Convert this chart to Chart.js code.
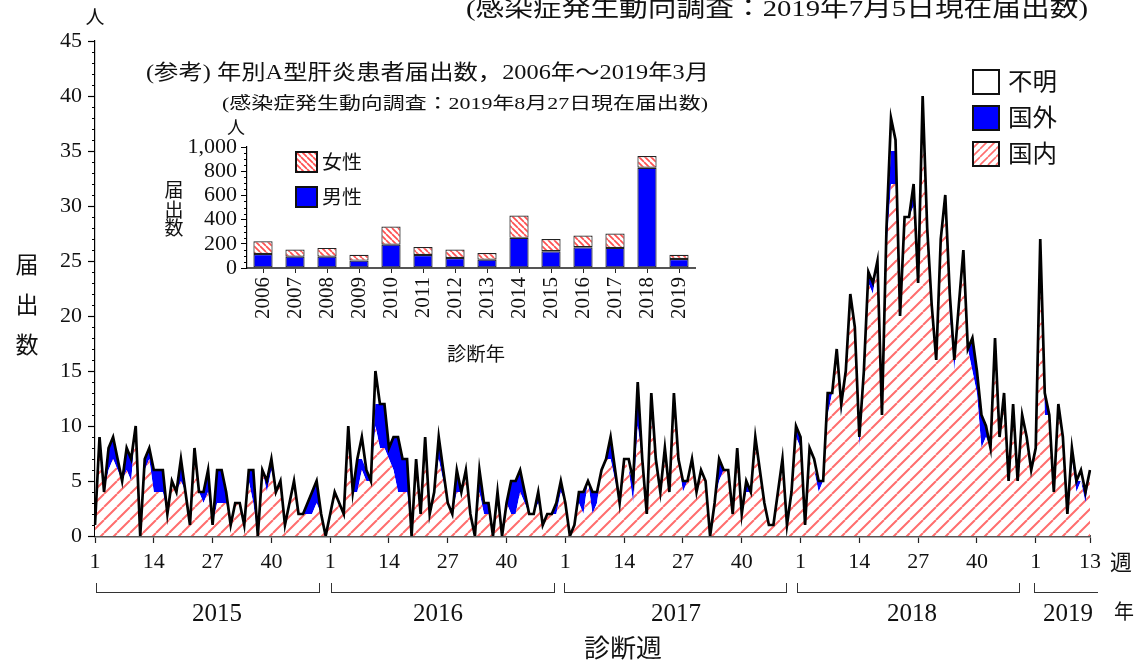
<!DOCTYPE html>
<html><head><meta charset="utf-8">
<script src="https://cdn.jsdelivr.net/npm/chart.js@4.4.1/dist/chart.umd.min.js"></script>
<style>
html,body{margin:0;padding:0;background:#fff;}
#wrap{position:relative;width:1135px;height:662px;overflow:hidden;font-family:'Liberation Serif','Noto Sans CJK JP',serif;color:#111;}
.t{position:absolute;white-space:nowrap;line-height:1;}
#wrap canvas{position:absolute;}
.br{position:absolute;border:1.5px solid #333;border-top:none;box-sizing:border-box;}
</style></head><body>
<div id="wrap">
<canvas id="main" width="1135" height="662" style="left:0;top:0"></canvas>
<canvas id="inset" width="580" height="250" style="left:140px;top:120px"></canvas>
</div>
<script>
// ---------------- DATA ----------------
const years = ['2015','2016','2017','2018','2019'];
const weeksPerYear = [52,52,52,52,13];
const weekTickLabels = [1,14,27,40];
const lastWeekTick = 13;

const domestic2015 = [1,9,4,6,7,6,5,6,5,10, 0,6,7,4,4,4,2,5,4,5, 4,1,8,4,3,4,1,3,3,3, 1,3,3,1,5,3,0,6,4,6, 4,5,1,3,5,2,2,2,2,3, 2,0];
const abroad2015   = [0,0,0,2,2,1,0,2,2,0, 0,1,1,2,2,2,0,0,0,2, 0,0,0,0,1,2,0,3,3,1, 0,0,0,0,1,3,0,0,1,1, 0,0,0,0,0,0,0,1,2,2, 0,0];
const unknown2015  = [0,0,0,0,0,0,0,0,0,0, 0,0,0,0,0,0,0,0,0,0, 0,0,0,0,0,0,0,0,0,0, 0,0,0,0,0,0,0,0,0,0, 0,0,0,0,0,0,0,0,0,0, 0,0];

const domestic2016 = [2,4,3,2,10,4,4,6,5,5, 10,8,8,7,6,4,4,4,0,7, 2,9,2,4,7,5,3,2,4,4, 6,2,0,4,2,2,0,4,0,3, 2,2,4,3,2,2,3,1,2,2, 2,4];
const abroad2016   = [0,0,0,0,0,0,3,1,1,0, 2,4,4,1,3,5,3,3,0,0, 0,0,0,0,2,1,0,0,2,0, 0,0,0,2,1,1,0,0,0,0, 3,3,2,1,0,0,1,0,0,0, 1,1];
const unknown2016  = [0,0,0,0,0,0,0,2,0,0, 3,0,0,0,0,0,0,0,0,0, 0,0,0,0,0,0,0,0,0,0, 0,0,0,0,0,0,0,0,0,0, 0,0,0,0,0,0,0,0,0,0, 0,0];

const domestic2017 = [3,0,1,3,2,5,2,3,6,7, 7,5,3,7,6,3,10,7,2,11, 7,4,8,4,12,7,4,5,7,4, 6,5,0,3,5,6,6,2,8,2, 4,4,9,6,3,1,1,4,7,1, 4,9];
const abroad2017   = [0,0,0,1,2,0,2,1,0,0, 2,1,0,0,0,2,4,0,0,2, 0,0,0,0,1,0,1,0,0,0, 0,0,0,0,2,0,0,0,0,0, 1,0,0,0,0,0,0,0,0,0, 0,1];
const unknown2017  = [0,0,0,0,0,0,0,0,0,0, 0,0,0,0,1,0,0,0,0,0, 0,0,0,0,0,0,0,0,0,0, 0,0,0,0,0,0,0,0,0,0, 0,0,0,0,0,0,0,0,0,0, 0,0];

const domestic2018 = [8,1,7,6,4,5,11,13,17,11, 15,22,19,8,15,23,22,25,11,26, 32,32,20,29,29,30,23,40,28,21, 16,27,30,20,15,21,26,17,15,13, 8,9,8,18,9,13,5,12,5,11, 9,6];
const abroad2018   = [1,0,0,0,1,0,2,0,0,1, 0,0,0,1,0,1,1,0,0,2, 3,3,0,0,0,2,0,0,0,0, 0,0,1,2,1,0,0,0,3,2, 3,1,0,0,0,0,0,0,0,0, 0,0];
const unknown2018  = [0,0,1,1,0,0,0,0,0,0, 0,0,0,0,0,0,0,0,0,0, 3,1,0,0,0,0,0,0,0,0, 0,0,0,0,0,0,0,0,0,0, 0,0,0,0,0,0,0,0,0,0, 0,0];

const domestic2019 = [8,27,11,11,4,12,9,2,7,4,5,3,6];
const abroad2019   = [0,0,2,0,0,0,0,0,1,1,0,1,0];
const unknown2019  = [0,0,0,0,0,0,0,0,0,0,1,0,0];

const insetYears  = ['2006','2007','2008','2009','2010','2011','2012','2013','2014','2015','2016','2017','2018','2019'];
const insetMale   = [116,94,94,61,193,108,83,69,249,138,171,166,829,75];
const insetFemale = [105,58,72,49,150,66,69,55,185,102,97,119,96,35];

// ---------------- BUILD ----------------
const domestic = [].concat(domestic2015,domestic2016,domestic2017,domestic2018,domestic2019);
const abroad   = [].concat(abroad2015,abroad2016,abroad2017,abroad2018,abroad2019);
const unknown  = [].concat(unknown2015,unknown2016,unknown2017,unknown2018,unknown2019);

const labels = [];
const showIdx = new Set();
years.forEach((y, yi) => {
  for (let w = 1; w <= weeksPerYear[yi]; w++) {
    if (weekTickLabels.includes(w) || (yi === years.length - 1 && w === lastWeekTick)) showIdx.add(labels.length);
    labels.push(String(w));
  }
});

const FONT = "'Liberation Serif','Noto Sans CJK JP',serif";
const wrap = document.getElementById('wrap');

function hatchTile(size, color, lw, dir) {
  const c = document.createElement('canvas');
  c.width = c.height = size;
  const g = c.getContext('2d');
  g.fillStyle = '#fff'; g.fillRect(0, 0, size, size);
  g.strokeStyle = color; g.lineWidth = lw;
  g.beginPath();
  for (let k = -1; k <= 1; k++) {
    if (dir === '/') { g.moveTo(k * size, size); g.lineTo(k * size + size, 0); }
    else { g.moveTo(k * size, 0); g.lineTo(k * size + size, size); }
  }
  g.stroke();
  return c;
}

const minorTicks = {
  id: 'minorTicks',
  afterDraw(chart, args, o) {
    const s = chart.scales.y, ctx = chart.ctx;
    ctx.save(); ctx.strokeStyle = '#000'; ctx.lineWidth = 1;
    for (let v = s.min; v <= s.max; v += o.step) {
      if (v % o.major === 0) continue;
      const y = Math.round(s.getPixelForValue(v)) + 0.5;
      ctx.beginPath(); ctx.moveTo(s.right - o.len, y); ctx.lineTo(s.right, y); ctx.stroke();
    }
    ctx.restore();
  }
};

// ---------------- MAIN CHART ----------------
const mainCtx = document.getElementById('main').getContext('2d');
const hatchMain = mainCtx.createPattern(hatchTile(13, '#ff6e6e', 2, '/'), 'repeat');
new Chart(mainCtx, {
  type: 'line',
  data: {
    labels,
    datasets: [
      { label: '国内', data: domestic, fill: 'origin', backgroundColor: hatchMain, borderColor: 'rgba(0,0,0,0)', borderWidth: 0, pointRadius: 0, tension: 0 },
      { label: '国外', data: abroad, fill: '-1', backgroundColor: '#0000ff', borderColor: 'rgba(0,0,0,0)', borderWidth: 0, pointRadius: 0, tension: 0 },
      { label: '不明', data: unknown, fill: '-1', backgroundColor: '#ffffff', borderColor: '#000', borderWidth: 2.7, pointRadius: 0, tension: 0, borderJoinStyle: 'miter' }
    ]
  },
  options: {
    responsive: false, animation: false, events: [],
    layout: { padding: { left: 0, right: 45, top: 41, bottom: 0 } },
    plugins: {
      legend: { display: false }, tooltip: { enabled: false },
      filler: { drawTime: 'beforeDatasetsDraw' },
      minorTicks: { step: 1, major: 5, len: 3 }
    },
    scales: {
      x: {
        type: 'category',
        ticks: { autoSkip: false, maxRotation: 0, minRotation: 0, font: { family: FONT, size: 22 }, color: '#111', padding: 6 },
        grid: { drawOnChartArea: false, drawTicks: true, tickLength: 7, tickColor: '#222', tickWidth: 1.2, offset: false },
        border: { display: true, color: '#555', width: 2.5 },
        afterBuildTicks: s => { s.ticks = s.ticks.filter(t => showIdx.has(t.value)); },
        afterFit: s => { s.height = 126; }
      },
      y: {
        stacked: true, min: 0, max: 45,
        ticks: { stepSize: 5, autoSkip: false, font: { family: FONT, size: 22 }, color: '#111', padding: 6 },
        grid: { drawOnChartArea: false, drawTicks: true, tickLength: 7, tickColor: '#000', tickWidth: 1.2 },
        border: { display: true, color: '#000', width: 1.2 },
        afterFit: s => { s.width = 95; }
      }
    }
  },
  plugins: [minorTicks]
});

// ---------------- INSET CHART ----------------
const insetCtx = document.getElementById('inset').getContext('2d');
const hatchInset = insetCtx.createPattern(hatchTile(6, '#ff5050', 1.7, '\\'), 'repeat');
new Chart(insetCtx, {
  type: 'bar',
  data: {
    labels: insetYears,
    datasets: [
      { label: '男性', data: insetMale, backgroundColor: '#0000ff', borderColor: '#222', borderWidth: 1.2, borderSkipped: false },
      { label: '女性', data: insetFemale, backgroundColor: hatchInset, borderColor: '#222', borderWidth: 1.2, borderSkipped: false }
    ]
  },
  options: {
    responsive: false, animation: false, events: [],
    layout: { padding: { left: 0, right: 25, top: 27, bottom: 0 } },
    datasets: { bar: { categoryPercentage: 1, barPercentage: 0.6 } },
    plugins: { legend: { display: false }, tooltip: { enabled: false }, minorTicks: { step: 50, major: 200, len: 3 } },
    scales: {
      x: {
        stacked: true,
        ticks: { autoSkip: false, minRotation: 90, maxRotation: 90, font: { family: FONT, size: 21 }, color: '#111', padding: 4 },
        grid: { offset: false, drawOnChartArea: false, drawTicks: true, tickLength: 5, tickColor: '#222' },
        border: { display: true, color: '#555', width: 2 },
        afterFit: s => { s.height = 102; }
      },
      y: {
        stacked: true, min: 0, max: 1000,
        ticks: { stepSize: 200, autoSkip: false, callback: v => v.toLocaleString('en-US'), font: { family: FONT, size: 22 }, color: '#111', padding: 4 },
        grid: { drawOnChartArea: false, drawTicks: true, tickLength: 6, tickColor: '#000' },
        border: { display: true, color: '#000', width: 1.2 },
        afterFit: s => { s.width = 107; }
      }
    }
  },
  plugins: [minorTicks]
});

// ---------------- TEXT & DECORATION ----------------
function txt(s, x, y, size, align, w) {
  const el = document.createElement('div');
  el.className = 't'; el.textContent = s; el.style.fontSize = size + 'px';
  wrap.appendChild(el);
  const r = el.getBoundingClientRect();
  const sx = w ? w / r.width : 1;
  const width = r.width * sx;
  const left = align === 'center' ? x - width / 2 : align === 'right' ? x - width : x;
  el.style.left = left + 'px';
  el.style.top = (y - r.height / 2) + 'px';
  el.style.transformOrigin = '0 50%';
  el.style.transform = 'scaleX(' + sx + ')';
  return el;
}
function swatch(x, y, w, h, fill) {
  const c = document.createElement('canvas');
  c.width = w; c.height = h; c.style.left = x + 'px'; c.style.top = y + 'px';
  wrap.appendChild(c);
  const g = c.getContext('2d');
  g.fillStyle = (typeof fill === 'string') ? fill : g.createPattern(fill, 'repeat');
  g.fillRect(0, 0, w, h);
  g.strokeStyle = '#111'; g.lineWidth = 2;
  g.strokeRect(1, 1, w - 2, h - 2);
}
function bracket(x1, x2, yTop, yBot, rightEnd) {
  const d = document.createElement('div');
  d.className = 'br';
  d.style.left = x1 + 'px'; d.style.top = yTop + 'px';
  d.style.width = (x2 - x1) + 'px'; d.style.height = (yBot - yTop) + 'px';
  if (!rightEnd) d.style.borderRight = 'none';
  wrap.appendChild(d);
}

// main title / labels
txt('(感染症発生動向調査：2019年7月5日現在届出数)', 466, 8, 24, 'left', 622);
txt('人', 95, 17, 19, 'center');
txt('届', 27, 265, 23, 'center');
txt('出', 27, 305, 23, 'center');
txt('数', 27, 345, 23, 'center');
txt('週', 1121, 563, 22, 'center');
txt('診断週', 623, 648, 25, 'center', 78);

// year brackets
bracket(96, 320, 583, 593, true);
bracket(331, 555, 583, 593, true);
bracket(564, 787, 583, 593, true);
bracket(797, 1020, 583, 593, true);
bracket(1034, 1098, 583, 593, false);
txt('2015', 217, 612, 25, 'center');
txt('2016', 438, 612, 25, 'center');
txt('2017', 676, 612, 25, 'center');
txt('2018', 912, 612, 25, 'center');
txt('2019', 1068, 612, 25, 'center');
txt('年', 1124, 612, 20, 'center');

// main legend
swatch(972, 69, 28, 26, '#ffffff');
swatch(972, 105, 28, 26, '#0000ff');
swatch(972, 141, 28, 26, hatchTile(8, '#ff6e6e', 1.6, '/'));
txt('不明', 1008, 82, 24, 'left', 49);
txt('国外', 1008, 118, 24, 'left', 49);
txt('国内', 1008, 154, 24, 'left', 49);

// inset titles / labels
txt('(参考) 年別A型肝炎患者届出数，2006年～2019年3月', 146, 72, 21, 'left', 563);
txt('(感染症発生動向調査：2019年8月27日現在届出数)', 222, 103, 17, 'left', 486);
txt('人', 236, 128, 18, 'center');
txt('届', 174, 190, 19, 'center');
txt('出', 174, 210, 19, 'center');
txt('数', 174, 228, 19, 'center');
txt('診断年', 476, 354, 19, 'center', 58);

// inset legend
swatch(295, 151, 23, 22, hatchTile(6, '#ff5050', 1.7, '\\'));
swatch(295, 186, 23, 22, '#0000ff');
txt('女性', 322, 162, 19, 'left', 40);
txt('男性', 322, 197, 19, 'left', 40);
</script>
</body></html>
